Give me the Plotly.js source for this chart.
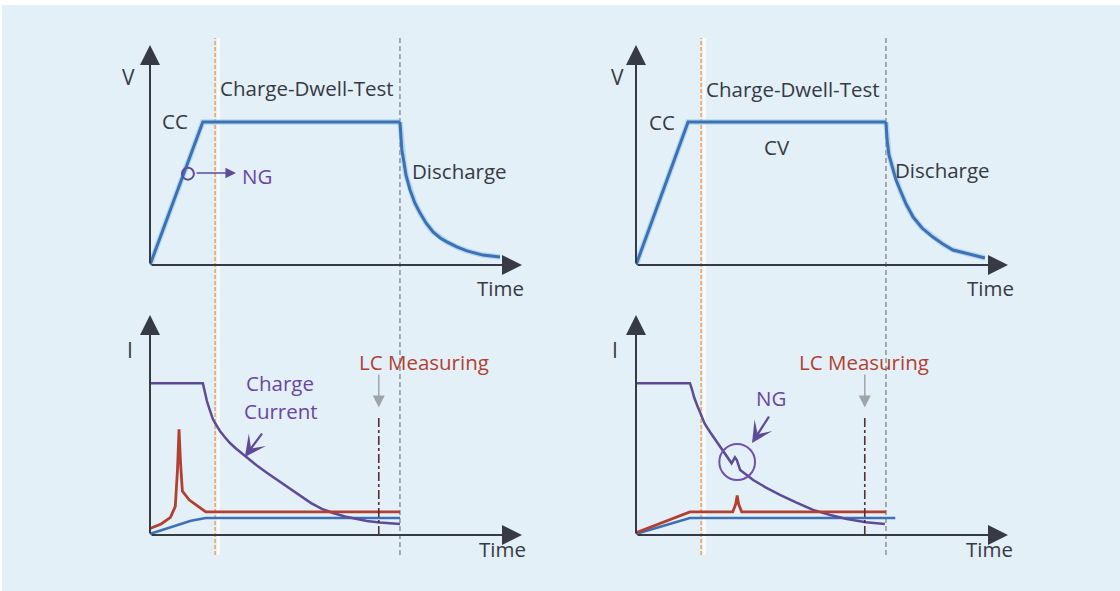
<!DOCTYPE html>
<html><head><meta charset="utf-8">
<script src="https://cdn.plot.ly/plotly-3.0.1.min.js"></script>
<style>html,body{margin:0;padding:0;background:#fff;}#chart{width:1120px;height:591px;}</style>
</head><body><div id="chart"></div>
<script>
// ---------- data (time in arbitrary units 0..10, level 0..1) ----------
// Left: NG during charge
const leftChargeV_x = [0, 1.42, 6.72];
const leftChargeV_y = [0, 0.65, 0.65];
const leftDischargeV_x = [6.72, 6.75, 6.77, 6.83, 6.88, 6.99, 7.12, 7.26, 7.42, 7.61, 7.8, 7.98, 8.25, 8.52, 8.95, 9.41];
const leftDischargeV_y = [0.65, 0.591, 0.523, 0.464, 0.409, 0.341, 0.282, 0.236, 0.191, 0.15, 0.123, 0.105, 0.082, 0.064, 0.045, 0.036];
const leftChargeI_x = [0, 1.42, 1.45, 1.48, 1.53, 1.59, 1.64, 1.69, 1.75, 1.88, 2.02, 2.15, 2.31, 2.5, 2.69, 2.9, 3.15, 3.44, 3.74, 4.03, 4.33, 4.62, 4.92, 5.24, 5.54, 5.83, 6.18, 6.72];
const leftChargeI_y = [0.69, 0.69, 0.668, 0.645, 0.609, 0.577, 0.55, 0.527, 0.509, 0.473, 0.443, 0.418, 0.393, 0.366, 0.340, 0.312, 0.282, 0.248, 0.213, 0.177, 0.145, 0.119, 0.1, 0.084, 0.073, 0.064, 0.057, 0.05];
const leftLeak_x = [0, 0.3, 0.55, 0.68, 0.74, 0.78, 0.82, 0.87, 1.05, 1.5, 6.72];
const leftLeak_y = [0.03, 0.05, 0.08, 0.13, 0.3, 0.48, 0.33, 0.2, 0.16, 0.105, 0.105];
const leftRef_x = [0, 0.35, 0.7, 1.1, 1.5, 6.72];
const leftRef_y = [0.005, 0.025, 0.045, 0.065, 0.077, 0.077];

// Right: NG during dwell
const rightChargeV_x = [0, 1.4, 6.72];
const rightChargeV_y = [0, 0.65, 0.65];
const rightDischargeV_x = [6.72, 6.75, 6.8, 6.88, 6.99, 7.1, 7.26, 7.45, 7.69, 7.98, 8.25, 8.52, 8.92, 9.38];
const rightDischargeV_y = [0.65, 0.568, 0.5, 0.455, 0.386, 0.341, 0.277, 0.218, 0.168, 0.127, 0.095, 0.068, 0.05, 0.032];
const rightChargeI_x = [0, 1.45, 1.51, 1.56, 1.64, 1.72, 1.85, 1.99, 2.12, 2.26, 2.42, 2.57, 2.66, 2.71, 2.8, 3.02, 3.15, 3.47, 3.87, 4.3, 4.76, 5.22, 5.67, 6.18, 6.69];
const rightChargeI_y = [0.69, 0.69, 0.659, 0.627, 0.591, 0.555, 0.505, 0.468, 0.436, 0.4, 0.364, 0.326, 0.353, 0.341, 0.295, 0.265, 0.25, 0.218, 0.182, 0.148, 0.114, 0.091, 0.073, 0.058, 0.05];
const rightLeak_x = [0, 1.45, 2.6, 2.68, 2.72, 2.76, 2.84, 6.72];
const rightLeak_y = [0.01, 0.105, 0.105, 0.14, 0.18, 0.14, 0.105, 0.105];
const rightRef_x = [0, 1.45, 6.97];
const rightRef_y = [0.005, 0.077, 0.077];

// event times
const dwellStart = 1.75;
const dischargeStart = 6.72;
const lcTime = 6.15;

// ---------- styling ----------
const W = 1120, H = 591;
const pxX = x => x / W, pxY = y => 1 - y / H;
const FONT = 'Open Sans, Lato, sans-serif';
const DARK = '#363a44', BLUE = '#3d71b4', PURPLE = '#5e4b98', RED = '#b23f2f', ORANGE = '#f0a058';
const PURPLE_TXT = '#6a46a2';

function tr(x, y, xa, ya, color, width) {
  return {x: x, y: y, xaxis: xa, yaxis: ya, type: 'scatter', mode: 'lines',
    line: {color: color, width: width, shape: 'linear'},
    hoverinfo: 'skip', showlegend: false};
}
const data = [
  tr(leftChargeV_x, leftChargeV_y, 'x', 'y', 'rgba(150,200,235,0.6)', 5.5),
  tr(leftDischargeV_x, leftDischargeV_y, 'x', 'y', 'rgba(150,200,235,0.6)', 5.5),
  tr(rightChargeV_x, rightChargeV_y, 'x2', 'y2', 'rgba(150,200,235,0.6)', 5.5),
  tr(rightDischargeV_x, rightDischargeV_y, 'x2', 'y2', 'rgba(150,200,235,0.6)', 5.5),
  tr(leftChargeV_x, leftChargeV_y, 'x', 'y', BLUE, 3),
  tr(leftDischargeV_x, leftDischargeV_y, 'x', 'y', BLUE, 3),
  tr(rightChargeV_x, rightChargeV_y, 'x2', 'y2', BLUE, 3),
  tr(rightDischargeV_x, rightDischargeV_y, 'x2', 'y2', BLUE, 3),
  tr(leftRef_x, leftRef_y, 'x3', 'y3', BLUE, 2.6),
  tr(leftChargeI_x, leftChargeI_y, 'x3', 'y3', PURPLE, 2.5),
  tr(leftLeak_x, leftLeak_y, 'x3', 'y3', RED, 2.8),
  tr(rightRef_x, rightRef_y, 'x4', 'y4', BLUE, 2.6),
  tr(rightChargeI_x, rightChargeI_y, 'x4', 'y4', PURPLE, 2.5),
  tr(rightLeak_x, rightLeak_y, 'x4', 'y4', RED, 2.8)
];

function ax(dom, anchor) { return {domain: dom, range: [0, 10], visible: false, fixedrange: true, anchor: anchor}; }
function ay(dom, anchor) { return {domain: dom, range: [0, 1], visible: false, fixedrange: true, anchor: anchor}; }
const xL = [150 / W, 522 / W], xR = [636 / W, 1008 / W];
const yT = [pxY(265), pxY(45)], yB = [pxY(535), pxY(315)];

const shapes = [
  {type: 'rect', xref: 'paper', yref: 'paper', x0: 0, x1: 1, y0: pxY(5), y1: 1, fillcolor: '#ffffff', line: {width: 0}, layer: 'below'},
  {type: 'rect', xref: 'paper', yref: 'paper', x0: 0, x1: pxX(2), y0: 0, y1: 1, fillcolor: '#ffffff', line: {width: 0}, layer: 'below'}
];
['x', 'x2'].forEach(xr => {
  shapes.push({type: 'line', xref: xr, yref: 'paper', x0: dwellStart + 0.09, x1: dwellStart + 0.09, y0: pxY(555), y1: pxY(38), line: {color: 'rgba(255,255,255,0.7)', width: 3}, layer: 'below'});
  shapes.push({type: 'line', xref: xr, yref: 'paper', x0: dwellStart, x1: dwellStart, y0: pxY(555), y1: pxY(38), line: {color: ORANGE, width: 1.5, dash: '4px,2px'}, layer: 'below'});
  shapes.push({type: 'line', xref: xr, yref: 'paper', x0: dischargeStart, x1: dischargeStart, y0: pxY(555), y1: pxY(38), line: {color: '#5f6570', width: 1, dash: '5px,3px'}, layer: 'below'});
});
['x3', 'x4'].forEach((xr, i) => {
  const yr = i === 0 ? 'y3' : 'y4';
  shapes.push({type: 'line', xref: xr, yref: yr, x0: lcTime, x1: lcTime, y0: 0, y1: 0.545, line: {color: '#5a2d3a', width: 1.6, dash: 'dashdot'}});
});
// NG circles
shapes.push({type: 'circle', xref: 'x', yref: 'y', x0: 1.02 - 0.16, x1: 1.02 + 0.16, y0: 0.415 - 0.027, y1: 0.415 + 0.027, line: {color: PURPLE, width: 2}});
shapes.push({type: 'circle', xref: 'x4', yref: 'y4', x0: 2.72 - 0.48, x1: 2.72 + 0.48, y0: 0.332 - 0.082, y1: 0.332 + 0.082, line: {color: '#7050b0', width: 2}});

const annotations = [];
function arrow(xr, yr, x0, y0, x1, y1, color, head, size, width) {
  annotations.push({xref: xr, yref: yr, axref: xr, ayref: yr, x: x1, y: y1, ax: x0, ay: y0,
    text: '', showarrow: true, arrowhead: head, arrowsize: size, arrowwidth: width, arrowcolor: color, standoff: 0, startstandoff: 0});
}
[['x', 'y'], ['x2', 'y2'], ['x3', 'y3'], ['x4', 'y4']].forEach(([xr, yr]) => {
  arrow(xr, yr, 0, 0, 10, 0, DARK, 2, 2.0, 2);
  arrow(xr, yr, 0, 0, 0, 1, DARK, 2, 2.0, 2);
});
// LC measuring arrows
arrow('x3', 'y3', lcTime, 0.736, lcTime, 0.58, '#9ea4ab', 2, 1.6, 1.5);
arrow('x4', 'y4', lcTime, 0.736, lcTime, 0.58, '#9ea4ab', 2, 1.6, 1.5);
// NG arrow (top left)
arrow('x', 'y', 1.21, 0.418, 2.31, 0.418, PURPLE, 2, 1.4, 1.5);
// Charge Current arrow
arrow('x3', 'y3', 3.04, 0.468, 2.55, 0.355, PURPLE, 3, 1.6, 2.2);
// NG arrow (bottom right)
arrow('x4', 'y4', 3.6, 0.545, 3.12, 0.418, PURPLE, 3, 1.6, 2.2);

function label(text, x, y, color, size) {
  annotations.push({xref: 'paper', yref: 'paper', x: pxX(x), y: pxY(y), xanchor: 'center', yanchor: 'middle',
    text: text, showarrow: false, font: {family: FONT, size: size || 20.5, color: color || DARK}});
}
label('V', 128, 77, DARK, 21); label('V', 617, 77, DARK, 21);
label('I', 130, 350, DARK, 21); label('I', 615, 350, DARK, 21);
label('CC', 175, 121); label('CC', 662, 122);
label('Charge-Dwell-Test', 307, 88); label('Charge-Dwell-Test', 793, 89);
label('Discharge', 459, 171); label('Discharge', 942, 170);
label('CV', 777, 147);
label('Time', 500, 288); label('Time', 990, 288);
label('Time', 502, 549); label('Time', 989, 549);
label('NG', 257, 176, PURPLE_TXT);
label('NG', 771, 398, PURPLE_TXT);
label('Charge', 280, 383, PURPLE_TXT); label('Current', 281, 411, PURPLE_TXT);
label('LC Measuring', 424, 362, RED); label('LC Measuring', 864, 362, RED);

const layout = {
  width: W, height: H, margin: {l: 0, r: 0, t: 0, b: 0},
  paper_bgcolor: '#e3f0f7', plot_bgcolor: 'rgba(0,0,0,0)', showlegend: false,
  xaxis: ax(xL, 'y'), yaxis: ay(yT, 'x'),
  xaxis2: ax(xR, 'y2'), yaxis2: ay(yT, 'x2'),
  xaxis3: ax(xL, 'y3'), yaxis3: ay(yB, 'x3'),
  xaxis4: ax(xR, 'y4'), yaxis4: ay(yB, 'x4'),
  shapes: shapes, annotations: annotations
};
Plotly.newPlot('chart', data, layout, {displayModeBar: false, staticPlot: true});
</script></body></html>
